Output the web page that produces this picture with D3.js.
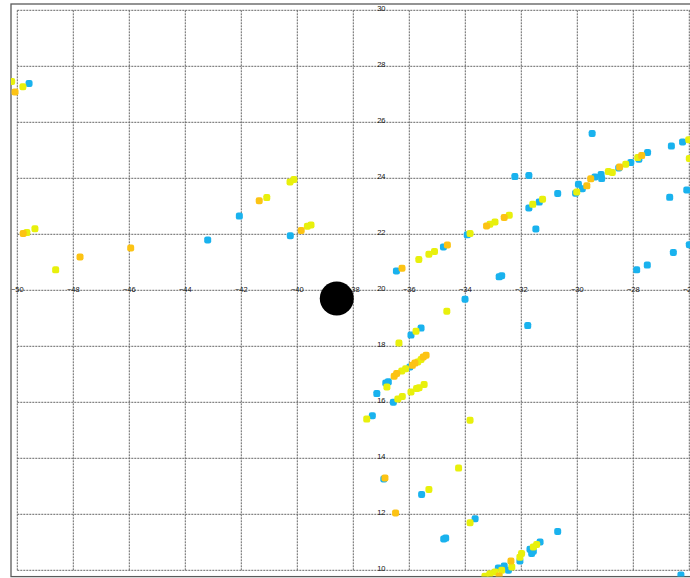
<!DOCTYPE html>
<html>
<head>
<meta charset="utf-8">
<script src="https://cdn.jsdelivr.net/npm/d3@7"></script>
<style>
html,body{margin:0;padding:0;background:#fff;overflow:hidden;}
svg{display:block;}
</style>
</head>
<body>
<svg id="chart" width="690" height="578"></svg>
<script>
// ---- data ----
const xTicks = [-50,-48,-46,-44,-42,-40,-38,-36,-34,-32,-30,-28,-26];
const yTicks = [10,12,14,16,18,20,22,24,26,28,30];
const yLabelAt = -37;   // x-position (data) where y tick labels sit
const xLabelAt = 20;    // y-position (data) where x tick labels sit

const blueSeries = [
 [-49.58,27.39],[-43.2,21.8],[-42.07,22.65],[-40.25,21.95],[-36.46,20.69],[-34.78,21.55],
 [-35.58,18.65],[-35.94,18.4],[-33.93,21.98],[-31.73,22.94],[-31.36,23.15],[-31.48,22.19],
 [-32.79,20.48],[-32.7,20.52],[-34.01,19.68],[-31.77,18.74],[-27.88,20.73],[-27.5,20.9],
 [-26.57,21.35],[-26.0,21.63],[-29.47,25.6],[-32.23,24.06],[-31.73,24.1],[-30.7,23.46],
 [-29.96,23.79],[-29.82,23.63],[-29.37,24.05],[-29.15,24.14],[-29.13,23.99],[-28.52,24.37],
 [-28.09,24.56],[-27.8,24.68],[-27.49,24.92],[-26.64,25.15],[-26.24,25.3],[-26.7,23.32],
 [-26.09,23.58],[-37.32,15.52],[-36.57,16.0],[-36.91,13.26],[-35.56,12.71],[-34.77,11.12],
 [-34.7,11.15],[-33.65,11.84],[-37.16,16.31],[-36.84,16.69],[-36.75,16.73],[-35.98,17.26],
 [-30.7,11.39],[-31.33,11.01],[-31.69,10.75],[-31.57,10.68],[-31.63,10.6],[-32.05,10.33],
 [-32.61,10.15],[-32.46,10.0],[-32.82,10.08],[-26.3,9.83],[-30.06,23.47]
];
const yellowSeries = [
 [-50.2,27.46],[-49.8,27.27],[-49.37,22.2],[-49.66,22.06],[-48.63,20.73],[-41.09,23.31],
 [-40.26,23.87],[-40.12,23.96],[-39.64,22.29],[-39.51,22.33],[-35.66,21.1],[-35.3,21.29],
 [-35.1,21.39],[-34.66,19.25],[-35.76,18.54],[-36.37,18.12],[-33.83,22.03],[-33.12,22.36],
 [-32.94,22.44],[-32.43,22.68],[-31.59,23.07],[-31.24,23.25],[-30.02,23.51],[-28.89,24.24],
 [-28.75,24.21],[-28.27,24.5],[-27.84,24.74],[-26.02,25.38],[-26.0,24.71],[-37.52,15.4],
 [-35.3,12.89],[-34.24,13.65],[-33.83,15.36],[-33.83,11.7],[-36.8,16.55],[-36.27,17.12],
 [-36.13,17.2],[-35.7,17.44],[-35.58,17.53],[-36.41,16.12],[-36.25,16.21],[-35.94,16.37],
 [-35.74,16.49],[-35.65,16.52],[-35.47,16.64],[-31.45,10.92],[-31.57,10.83],[-31.99,10.6],
 [-32.05,10.47],[-32.34,10.12],[-32.7,10.0],[-32.94,9.94],[-33.12,9.88],[-33.3,9.79]
];
const orangeSeries = [
 [-50.08,27.08],[-49.79,22.03],[-47.76,21.19],[-45.95,21.51],[-41.36,23.2],[-39.86,22.14],
 [-36.26,20.79],[-34.64,21.62],[-33.24,22.3],[-32.61,22.6],[-29.66,23.73],[-29.52,23.98],
 [-28.49,24.4],[-27.7,24.81],[-36.87,13.3],[-36.49,12.05],[-36.54,16.93],[-36.45,17.03],
 [-35.89,17.32],[-35.8,17.4],[-35.5,17.62],[-35.4,17.68],[-32.37,10.33],[-32.79,9.8]
];
const bigDot = [[-38.59,19.71]];

// ---- drawing ----
const svg = d3.select("#chart");
const x = d3.scaleLinear().domain([-50,-26]).range([17.3,689.3]);
const y = d3.scaleLinear().domain([10,30]).range([570.3,10.3]);
const pad = 0.225;
const fx0 = x(-50-pad), fx1 = x(-24+pad), fy0 = y(30+pad), fy1 = y(10-pad);

svg.append("defs").append("clipPath").attr("id","clip")
  .append("rect").attr("x",fx0).attr("y",fy0).attr("width",fx1-fx0).attr("height",fy1-fy0);

const grid = svg.append("g");
const gx = [...xTicks, -24];
grid.selectAll("line.v").data(gx).join("line")
  .attr("x1",d=>x(d)).attr("x2",d=>x(d)).attr("y1",y(30)).attr("y2",y(10))
  .attr("stroke","#666").attr("stroke-width",1).attr("stroke-dasharray","2,1");
grid.selectAll("line.h").data(yTicks).join("line")
  .attr("x1",x(-50)).attr("x2",x(-24)).attr("y1",d=>y(d)).attr("y2",d=>y(d))
  .attr("stroke","#666").attr("stroke-width",1).attr("stroke-dasharray","2,1");

// tick labels
const lbl = svg.append("g").attr("font-family","Liberation Sans, Arial, sans-serif")
  .attr("font-size","7.5px").attr("fill","#111").attr("text-anchor","middle");
lbl.selectAll("text.x").data(xTicks).join("text")
  .attr("x",d=>x(d)).attr("y",y(xLabelAt)+1.5)
  .text(d=>d<0 ? "\u2212"+Math.abs(d) : d);
lbl.selectAll("text.y").data(yTicks).join("text")
  .attr("x",x(yLabelAt)).attr("y",d=>y(d)+0.5)
  .text(d=>d);

// frame
svg.append("rect").attr("x",fx0).attr("y",fy0).attr("width",fx1-fx0).attr("height",fy1-fy0)
  .attr("fill","none").attr("stroke","#5a5a5a").attr("stroke-width",1.3);

const pts = svg.append("g").attr("clip-path","url(#clip)");
const s = 7;
function drawSeries(data,color){
  pts.append("g").selectAll("rect").data(data).join("rect")
    .attr("x",d=>x(d[0])-s/2).attr("y",d=>y(d[1])-s/2)
    .attr("width",s).attr("height",s).attr("rx",2.2).attr("ry",2.2)
    .attr("fill",color);
}
drawSeries(blueSeries,"#19b2ee");
drawSeries(yellowSeries,"#e8f00c");
drawSeries(orangeSeries,"#fcc314");

svg.append("g").selectAll("circle").data(bigDot).join("circle")
  .attr("cx",d=>x(d[0])).attr("cy",d=>y(d[1])).attr("r",17).attr("fill","#000");
</script>
</body>
</html>
